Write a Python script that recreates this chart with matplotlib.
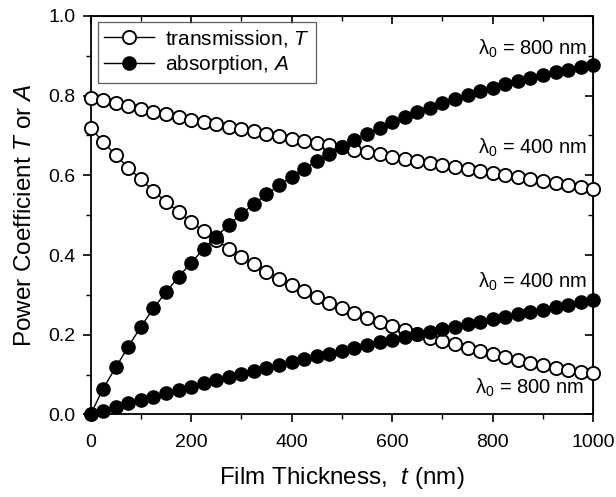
import numpy as np
import matplotlib.pyplot as plt
from matplotlib.ticker import MultipleLocator

plt.rcParams['font.family'] = ['Liberation Sans', 'DejaVu Sans']
plt.rcParams['mathtext.fontset'] = 'custom'
plt.rcParams['mathtext.rm'] = 'Liberation Sans'
plt.rcParams['mathtext.it'] = 'Liberation Sans:italic'

# -------------------------
# DATA
# -------------------------
thickness = np.arange(0, 1001, 25)  # nm

trans_upper = [0.795, 0.788, 0.781, 0.774, 0.767, 0.760, 0.753, 0.747, 0.740, 0.734,
               0.728, 0.722, 0.716, 0.710, 0.704, 0.698, 0.692, 0.687, 0.681, 0.676,
               0.670, 0.664, 0.659, 0.653, 0.647, 0.642, 0.636, 0.631, 0.626, 0.621,
               0.616, 0.611, 0.606, 0.601, 0.596, 0.591, 0.586, 0.581, 0.576, 0.570,
               0.565]
trans_lower = [0.719, 0.684, 0.651, 0.619, 0.590, 0.561, 0.534, 0.508, 0.483, 0.460,
               0.437, 0.416, 0.396, 0.377, 0.358, 0.341, 0.324, 0.309, 0.294, 0.280,
               0.266, 0.254, 0.242, 0.231, 0.221, 0.211, 0.202, 0.193, 0.185, 0.176,
               0.168, 0.160, 0.152, 0.144, 0.137, 0.130, 0.123, 0.117, 0.111, 0.107,
               0.103]
absorb_upper = [0.000, 0.065, 0.118, 0.170, 0.220, 0.266, 0.307, 0.345, 0.381, 0.415,
                0.446, 0.476, 0.503, 0.528, 0.552, 0.575, 0.597, 0.617, 0.636, 0.654,
                0.671, 0.688, 0.704, 0.719, 0.733, 0.746, 0.758, 0.770, 0.781, 0.791,
                0.801, 0.811, 0.820, 0.829, 0.837, 0.845, 0.852, 0.859, 0.865, 0.871,
                0.877]
absorb_lower = [0.000, 0.010, 0.019, 0.028, 0.037, 0.045, 0.054, 0.062, 0.070, 0.078,
                0.086, 0.094, 0.102, 0.110, 0.117, 0.125, 0.132, 0.139, 0.146, 0.153,
                0.160, 0.167, 0.174, 0.181, 0.188, 0.194, 0.201, 0.207, 0.214, 0.220,
                0.227, 0.233, 0.239, 0.245, 0.251, 0.257, 0.263, 0.269, 0.275, 0.281,
                0.287]

curve_labels = [
    (988, 0.918, r'$\mathregular{\lambda_0}$ = 800 nm'),
    (988, 0.668, r'$\mathregular{\lambda_0}$ = 400 nm'),
    (988, 0.333, r'$\mathregular{\lambda_0}$ = 400 nm'),
    (983, 0.068, r'$\mathregular{\lambda_0}$ = 800 nm'),
]

# -------------------------
# PLOT
# -------------------------
fig = plt.figure(figsize=(6.16, 4.97), dpi=100)
ax = fig.add_axes([0.147, 0.166, 0.816, 0.802])

open_style = dict(marker='o', markersize=9.5, markerfacecolor='white',
                  markeredgecolor='black', markeredgewidth=1.35,
                  color='black', linewidth=1.0, clip_on=False, zorder=3)
fill_style = dict(marker='o', markersize=9.5, markerfacecolor='black',
                  markeredgecolor='black', color='black', linewidth=1.0,
                  clip_on=False, zorder=4)

ax.plot(thickness, trans_upper, label='transmission, $\\mathit{T}$', **open_style)
ax.plot(thickness, trans_lower, **open_style)
ax.plot(thickness, absorb_upper, label='absorption, $\\mathit{A}$', **fill_style)
ax.plot(thickness, absorb_lower, **fill_style)

for x, y, txt in curve_labels:
    ax.text(x, y, txt, ha='right', va='center', fontsize=14.5)

ax.set_xlim(0, 1000)
ax.set_ylim(0, 1.0)
ax.xaxis.set_major_locator(MultipleLocator(200))
ax.xaxis.set_minor_locator(MultipleLocator(100))
ax.yaxis.set_major_locator(MultipleLocator(0.2))
ax.yaxis.set_minor_locator(MultipleLocator(0.1))
ax.yaxis.set_major_formatter(plt.FuncFormatter(lambda v, p: f"{v:.1f}"))

ax.tick_params(which='major', direction='out', length=6, width=1.2, labelsize=14)
ax.tick_params(which='minor', direction='out', length=3.5, width=1.0)
ax.tick_params(axis='x', pad=8)
ax.tick_params(axis='y', pad=5)
for s in ax.spines.values():
    s.set_linewidth(1.3)

# mirrored ticks pointing inward on top and right
top = ax.secondary_xaxis('top')
right = ax.secondary_yaxis('right')
for sec in (top, right):
    sec.tick_params(which='major', direction='in', length=6, width=1.2)
    sec.tick_params(which='minor', direction='in', length=3.5, width=1.0)
top.xaxis.set_major_locator(MultipleLocator(200))
top.xaxis.set_minor_locator(MultipleLocator(100))
top.set_xticklabels([])
right.yaxis.set_major_locator(MultipleLocator(0.2))
right.yaxis.set_minor_locator(MultipleLocator(0.1))
right.set_yticklabels([])

ax.set_xlabel('Film Thickness,  $\\mathit{t}$ (nm)', fontsize=17.5, labelpad=10)
ax.set_ylabel('Power Coefficient $\\mathit{T}$ or $\\mathit{A}$', fontsize=17.5, labelpad=9)

leg = ax.legend(loc='upper left', bbox_to_anchor=(0.015, 0.985), fontsize=15,
                frameon=True, fancybox=False, edgecolor='#333333',
                handlelength=2.4, handletextpad=0.5, borderpad=0.3,
                labelspacing=0.2, borderaxespad=0.0)
leg.get_frame().set_linewidth(0.9)

fig.savefig('out.png', dpi=100)
